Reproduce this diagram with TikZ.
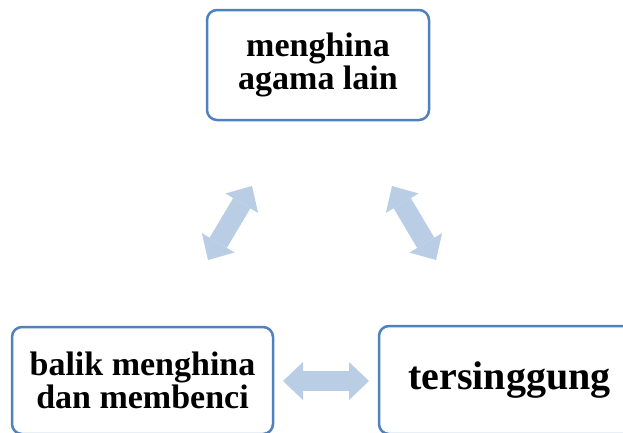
\documentclass[tikz,border=0pt]{standalone}
\usepackage{fontspec}
\setmainfont{Liberation Serif}
\usetikzlibrary{arrows.meta}
\definecolor{boxblue}{RGB}{79,129,189}
\definecolor{arrowblue}{RGB}{185,205,229}

\begin{document}
\begin{tikzpicture}[x=1pt,y=-1pt]
    \tikzset{
        box/.style={draw=boxblue, line width=2.5pt, rounded corners=10pt, fill=white,
            align=center, inner sep=0pt, font=\bfseries\fontsize{34}{33}\selectfont},
        bigtip/.tip={Triangle[width=38pt,length=20pt,line width=0pt]},
        bigarrow/.style={draw=arrowblue, line width=20pt, bigtip-bigtip}
    }
    \useasboundingbox (0,0) rectangle (623,432);
    \clip (0,0) rectangle (623,432);
    \node[box, minimum width=222pt, minimum height=110pt] (agama) at (318,65) {menghina\\agama lain};
    \node[box, minimum width=261pt, minimum height=107pt] (balik) at (142.5,380.5) {balik menghina\\dan membenci};
    \node[box, minimum width=261pt, minimum height=108pt, font=\bfseries\fontsize{40}{40}\selectfont] (tersinggung) at (509.5,380) {tersinggung};
    % arrow ends
    \coordinate (l1) at (208,260);
    \coordinate (l2) at (252,186);
    \coordinate (r1) at (392,186);
    \coordinate (r2) at (436,260);
    \coordinate (h1) at (283,381);
    \coordinate (h2) at (369,381);
    \draw[bigarrow] (l1) -- (l2);
    \draw[bigarrow] (r1) -- (r2);
    \draw[bigarrow] (h1) -- (h2);
\end{tikzpicture}
\end{document}
